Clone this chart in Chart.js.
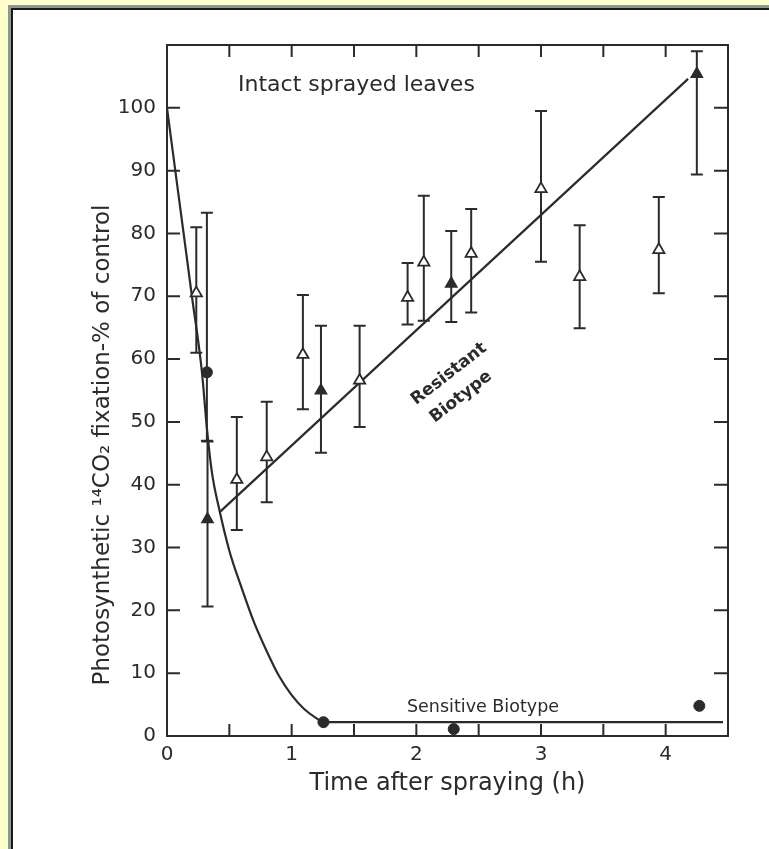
<!DOCTYPE html>
<html>
<head>
<meta charset="utf-8">
<title>Photosynthetic 14CO2 fixation after spraying</title>
<script src="https://cdn.jsdelivr.net/npm/chart.js@4.4.1/dist/chart.umd.min.js"></script>
<style>
  html, body { margin: 0; padding: 0; background: #fff; }
  canvas { display: block; }
</style>
</head>
<body>
<canvas id="fixationChart" width="769" height="849"></canvas>
<script>
// Resistant biotype, open triangles (value, error bar low / high)
const openTriX = [0.235, 0.56, 0.80, 1.09, 1.545, 1.93, 2.06, 2.44, 3.0, 3.31, 3.945];
const openTriY = [70.5, 40.8, 44.4, 60.7, 56.6, 69.8, 75.4, 76.8, 87.1, 73.1, 77.4];
const openTriLow = [61, 32.8, 37.2, 52, 49.2, 65.5, 66.1, 67.4, 75.5, 64.9, 70.5];
const openTriHigh = [81, 50.8, 53.2, 70.2, 65.3, 75.3, 86, 83.9, 99.5, 81.3, 85.8];

// Resistant biotype, filled triangles
const fillTriX = [0.325, 1.235, 2.28, 4.25];
const fillTriY = [34.5, 55, 72, 105.4];
const fillTriLow = [20.6, 45.1, 65.9, 89.4];
const fillTriHigh = [46.9, 65.3, 80.4, 109];

// Sensitive biotype, filled circles
const circleX = [0.32, 1.255, 2.30, 4.27];
const circleY = [57.9, 2.2, 1.1, 4.8];
const circleLow = [47, null, null, null];
const circleHigh = [83.3, null, null, null];

// fitted curves
const sensCurveX = [0, 0.1, 0.2, 0.28, 0.32, 0.36, 0.42, 0.5, 0.6, 0.7, 0.8, 0.9, 1.0, 1.1, 1.2, 1.255, 4.46];
const sensCurveY = [100, 85, 70, 58, 49, 42, 36, 29.5, 23.5, 18, 13.5, 9.5, 6.5, 4.3, 2.8, 2.2, 2.2];
const resLineX = [0.42, 4.18];
const resLineY = [35.6, 104.6];

// axis tick labels
const xTickLabels = [0, 1, 2, 3, 4];
const yTickLabels = [0, 10, 20, 30, 40, 50, 60, 70, 80, 90, 100];

const INK = '#2b2b2b';
const FONT = 'DejaVu Sans';

const toPoints = (xs, ys) => xs.map((x, i) => ({ x: x, y: ys[i] }));

// frame, error bars, inward ticks and lettering
const paperPlugin = {
    id: 'paper',
    beforeDraw(chart) {
        const ctx = chart.ctx;
        ctx.save();
        ctx.fillStyle = '#fff';
        ctx.fillRect(0, 0, chart.width, chart.height);
        ctx.fillStyle = '#ffffcc';
        ctx.fillRect(0, 0, chart.width, 5);
        ctx.fillRect(0, 0, 8, chart.height);
        ctx.fillStyle = '#8a9a8c';
        ctx.fillRect(8, 5, chart.width - 8, 3);
        ctx.fillRect(8, 5, 3, chart.height - 5);
        ctx.fillStyle = '#1a1a1a';
        ctx.fillRect(11, 8, chart.width - 11, 2);
        ctx.fillRect(11, 8, 2, chart.height - 8);
        ctx.restore();
    },
    beforeDatasetsDraw(chart) {
        const ctx = chart.ctx;
        const xs = chart.scales.x, ys = chart.scales.y;
        const bars = [
            [openTriX, openTriLow, openTriHigh],
            [fillTriX, fillTriLow, fillTriHigh],
            [circleX, circleLow, circleHigh]
        ];
        ctx.save();
        ctx.strokeStyle = INK;
        ctx.lineWidth = 2;
        bars.forEach(([bx, lo, hi]) => {
            bx.forEach((x, i) => {
                if (lo[i] == null) return;
                const px = xs.getPixelForValue(x);
                const y1 = ys.getPixelForValue(lo[i]);
                const y2 = ys.getPixelForValue(hi[i]);
                ctx.beginPath();
                ctx.moveTo(px, y1); ctx.lineTo(px, y2);
                ctx.moveTo(px - 6, y1); ctx.lineTo(px + 6, y1);
                ctx.moveTo(px - 6, y2); ctx.lineTo(px + 6, y2);
                ctx.stroke();
            });
        });
        ctx.restore();
    },
    afterDraw(chart) {
        const ctx = chart.ctx;
        const a = chart.chartArea;
        const xs = chart.scales.x, ys = chart.scales.y;
        ctx.save();
        ctx.strokeStyle = INK;
        ctx.lineWidth = 2;
        ctx.strokeRect(a.left, a.top, a.right - a.left, a.bottom - a.top);

        // inward ticks
        ctx.beginPath();
        for (let v = 0.5; v < 4.5; v += 0.5) {
            const px = xs.getPixelForValue(v);
            ctx.moveTo(px, a.bottom); ctx.lineTo(px, a.bottom - 12);
            ctx.moveTo(px, a.top); ctx.lineTo(px, a.top + 12);
        }
        for (let v = 10; v <= 100; v += 10) {
            const py = ys.getPixelForValue(v);
            ctx.moveTo(a.left, py); ctx.lineTo(a.left + 13, py);
            ctx.moveTo(a.right, py); ctx.lineTo(a.right - 14, py);
        }
        ctx.stroke();

        ctx.fillStyle = INK;
        ctx.textBaseline = 'middle';

        ctx.font = '22px "' + FONT + '"';
        ctx.textAlign = 'left';
        ctx.fillText('Intact sprayed leaves', 238, 85);

        ctx.font = '17.5px "' + FONT + '"';
        ctx.textAlign = 'center';
        ctx.fillText('Sensitive Biotype', 483, 707);

        ctx.font = 'bold 17px "' + FONT + '"';
        ctx.save();
        ctx.translate(449, 374);
        ctx.rotate(-0.66);
        ctx.fillText('Resistant', 0, 0);
        ctx.restore();
        ctx.save();
        ctx.translate(461, 397);
        ctx.rotate(-0.66);
        ctx.fillText('Biotype', 0, 0);
        ctx.restore();

        ctx.font = '23px "' + FONT + '"';
        ctx.save();
        ctx.translate(103, 445);
        ctx.rotate(-Math.PI / 2);
        ctx.fillText('Photosynthetic \u00B9\u2074CO\u2082 fixation-% of control', 0, 0);
        ctx.restore();

        ctx.restore();
    }
};

function createChart() {
    const ctx = document.getElementById('fixationChart').getContext('2d');
    new Chart(ctx, {
        type: 'scatter',
        data: {
            datasets: [
                {
                    label: 'Resistant (open)',
                    data: toPoints(openTriX, openTriY),
                    pointStyle: 'triangle',
                    pointRadius: 6.5,
                    backgroundColor: '#fff',
                    borderColor: INK,
                    borderWidth: 1.8,
                },
                {
                    label: 'Resistant (filled)',
                    data: toPoints(fillTriX, fillTriY),
                    pointStyle: 'triangle',
                    pointRadius: 6.5,
                    backgroundColor: INK,
                    borderColor: INK,
                    borderWidth: 1.5,
                },
                {
                    label: 'Sensitive',
                    data: toPoints(circleX, circleY),
                    pointStyle: 'circle',
                    pointRadius: 5.5,
                    backgroundColor: INK,
                    borderColor: INK,
                },
                {
                    type: 'line',
                    label: 'Resistant fit',
                    data: toPoints(resLineX, resLineY),
                    borderColor: INK,
                    borderWidth: 2.2,
                    pointRadius: 0,
                    fill: false,
                },
                {
                    type: 'line',
                    label: 'Sensitive fit',
                    data: toPoints(sensCurveX, sensCurveY),
                    borderColor: INK,
                    borderWidth: 2.2,
                    pointRadius: 0,
                    cubicInterpolationMode: 'monotone',
                    fill: false,
                },
            ],
        },
        options: {
            responsive: false,
            animation: false,
            devicePixelRatio: 1,
            layout: { padding: { left: 0, top: 45, right: 41, bottom: 0 } },
            plugins: { legend: { display: false }, tooltip: { enabled: false } },
            scales: {
                x: {
                    type: 'linear',
                    min: 0,
                    max: 4.5,
                    afterFit: s => { s.height = 113; },
                    grid: { display: false, drawTicks: false },
                    border: { display: false },
                    ticks: {
                        stepSize: 1,
                        includeBounds: false,
                        padding: 7,
                        color: INK,
                        font: { family: FONT, size: 20 },
                        callback: v => xTickLabels.includes(v) ? String(v) : '',
                    },
                    title: {
                        display: true,
                        text: 'Time after spraying (h)',
                        color: INK,
                        font: { family: FONT, size: 24 },
                        padding: { top: 0, bottom: 51 },
                    },
                },
                y: {
                    type: 'linear',
                    min: 0,
                    max: 110,
                    afterFit: s => { s.width = 167; },
                    grid: { display: false, drawTicks: false },
                    border: { display: false },
                    ticks: {
                        stepSize: 10,
                        padding: 11,
                        color: INK,
                        font: { family: FONT, size: 20 },
                        callback: v => yTickLabels.includes(v) ? String(v) : '',
                    },
                },
            },
        },
        plugins: [paperPlugin],
    });
}

createChart();
</script>
</body>
</html>
